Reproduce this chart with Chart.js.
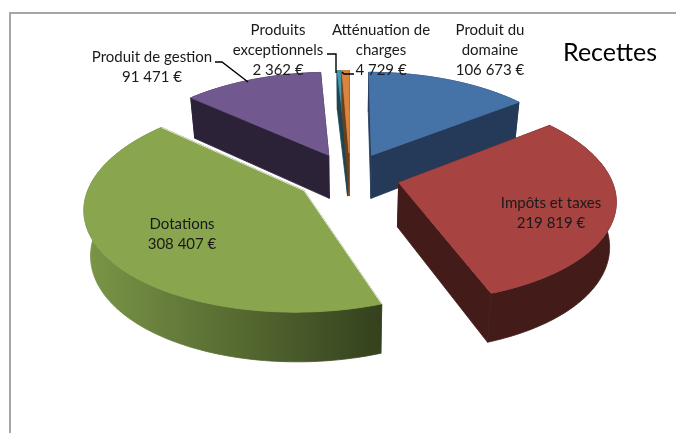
<!DOCTYPE html>
<html>
<head>
<meta charset="utf-8">
<script src="https://cdn.jsdelivr.net/npm/chart.js@4"></script>
<style>
  html, body { margin: 0; background: #fff; }
  #wrap { position: relative; width: 676px; height: 433px; overflow: hidden; }
  #frame { position: absolute; left: 9px; top: 12px; right: -5px; bottom: -5px; border-left: 2px solid #a6a6a6; border-top: 2px solid #a6a6a6; }
</style>
</head>
<body>
<div id="wrap">
  <div id="frame"></div>
  <canvas id="recettes-chart" width="676" height="433"></canvas>
</div>
<script>
const categories = ['Produit du domaine', 'Impôts et taxes', 'Dotations', 'Produit de gestion', 'Produits exceptionnels', 'Atténuation de charges'];
const values = [106673, 219819, 308407, 91471, 2362, 4729];
const labelLines = [['Produit du', 'domaine'], ['Impôts et taxes'], ['Dotations'], ['Produit de gestion'], ['Produits', 'exceptionnels'], ['Atténuation de', 'charges']];

const topColors = ['#4572a7', '#a74341', '#89a54e', '#71588f', '#4198af', '#db843d'];
const wallColors = [['#253a59', '#253a59'], ['#431c1a', '#431c1a'], ['#7b9647', '#34411d'], ['#2c2238', '#2c2238'], ['#1d4552', '#1d4552'], ['#6b3f1a', '#6b3f1a']];
const labelAnchors = [[490, 30], [551, 203], [182, 224], [152, 57], [278, 30], [381, 30]];
const leaders = [null, null, null, [[215, 62], [222, 62], [248, 82]], [[327, 54], [336, 54], [336, 73]], [[354, 74], [344, 74], [342, 72]]];
const drawOrder = [3, 0, 4, 5, 2, 1];

// the pie is flat in Chart.js, this squashes it into the excel style 3d view
const stretchX = 1.357, stretchY = 0.641, perspX = 0.15, perspY = 0.14, depth = 44;

function euro(n) {
    return String(n).replace(/\B(?=(\d{3})+$)/g, ' ') + ' €';
}

function project(arc, u, v, down) {
    const R = arc.outerRadius;
    const x = arc.x + R * stretchX * u / (1 - perspX * v) * (1 - 0.025 * down);
    const y = arc.y + R * stretchY * v / (1 - perspY * v) + down * depth / (1 - 0.1 * v);
    return [x, y];
}

function rim(arc) {
    const mid = (arc.startAngle + arc.endAngle) / 2;
    const e = arc.options.offset / arc.outerRadius;
    const ox = Math.cos(mid) * e, oy = Math.sin(mid) * e;
    const pts = [];
    const n = Math.max(2, Math.ceil((arc.endAngle - arc.startAngle) / 0.02));
    for (let i = 0; i <= n; i++) {
        const a = arc.startAngle + (arc.endAngle - arc.startAngle) * i / n;
        pts.push([ox + Math.cos(a), oy + Math.sin(a)]);
    }
    return { apex: [ox, oy], pts };
}

function fillPoly(ctx, pts, color) {
    ctx.beginPath();
    pts.forEach((p, i) => i ? ctx.lineTo(p[0], p[1]) : ctx.moveTo(p[0], p[1]));
    ctx.closePath();
    ctx.fillStyle = color;
    ctx.fill();
    // hairline in the same colour, otherwise a light seam shows where faces meet
    ctx.strokeStyle = color;
    ctx.lineWidth = 0.8;
    ctx.stroke();
}

const pie3d = {
    id: 'pie3d',
    beforeDatasetDraw(chart, args) {
        const ctx = chart.ctx;
        const arcs = chart.getDatasetMeta(args.index).data;
        drawOrder.forEach(i => {
            const arc = arcs[i];
            const { apex, pts } = rim(arc);
            const top = pts.map(p => project(arc, p[0], p[1], 0));
            const bottom = pts.map(p => project(arc, p[0], p[1], 1));
            const a0 = project(arc, apex[0], apex[1], 0), a1 = project(arc, apex[0], apex[1], 1);
            const xs = top.map(p => p[0]);
            const grad = ctx.createLinearGradient(Math.min(...xs), 0, Math.max(...xs), 0);
            grad.addColorStop(0, wallColors[i][0]);
            grad.addColorStop(1, wallColors[i][1]);
            const last = top.length - 1;
            fillPoly(ctx, [a0, top[0], bottom[0], a1], wallColors[i][0]);
            fillPoly(ctx, [a0, top[last], bottom[last], a1], wallColors[i][1]);
            fillPoly(ctx, top.concat(bottom.slice().reverse()), grad);
            fillPoly(ctx, [a0].concat(top), topColors[i]);
            // thin light edge on the green slice, it sits over the purple wall
            if (i === 2) {
                ctx.beginPath();
                ctx.moveTo(top[last][0], top[last][1]);
                ctx.lineTo(a0[0], a0[1]);
                ctx.lineTo(top[0][0], top[0][1]);
                ctx.strokeStyle = 'rgba(255,255,255,0.8)';
                ctx.lineWidth = 1;
                ctx.stroke();
            }
        });
        return false;
    },
    afterDraw(chart) {
        const ctx = chart.ctx;
        ctx.save();
        ctx.strokeStyle = '#000';
        ctx.lineWidth = 1.4;
        leaders.forEach(l => {
            if (!l) return;
            ctx.beginPath();
            l.forEach((p, i) => i ? ctx.lineTo(p[0], p[1]) : ctx.moveTo(p[0], p[1]));
            ctx.stroke();
        });
        ctx.fillStyle = '#1a1a1a';
        ctx.font = '15px Lato';
        ctx.textAlign = 'center';
        ctx.textBaseline = 'middle';
        categories.forEach((c, i) => {
            const lines = labelLines[i].concat(euro(values[i]));
            lines.forEach((t, j) => ctx.fillText(t, labelAnchors[i][0], labelAnchors[i][1] + j * 20));
        });
        ctx.fillStyle = '#000';
        ctx.font = '25px Lato';
        ctx.fillText('Recettes', 610, 53);
        ctx.restore();
    }
};

const chartId = document.getElementById('recettes-chart').getContext('2d');

const myChart = new Chart(chartId, {
    type: 'pie',
    data: {
        labels: categories,
        datasets: [{
            data: values,
            backgroundColor: topColors,
            borderWidth: 0,
            offset: [37, 37, 40, 37, 37, 37]
        }]
    },
    options: {
        responsive: false,
        animation: false,
        layout: { padding: { left: 24, bottom: 81 } },
        plugins: {
            legend: { display: false },
            tooltip: { enabled: false }
        }
    },
    plugins: [pie3d]
});
</script>
</body>
</html>
